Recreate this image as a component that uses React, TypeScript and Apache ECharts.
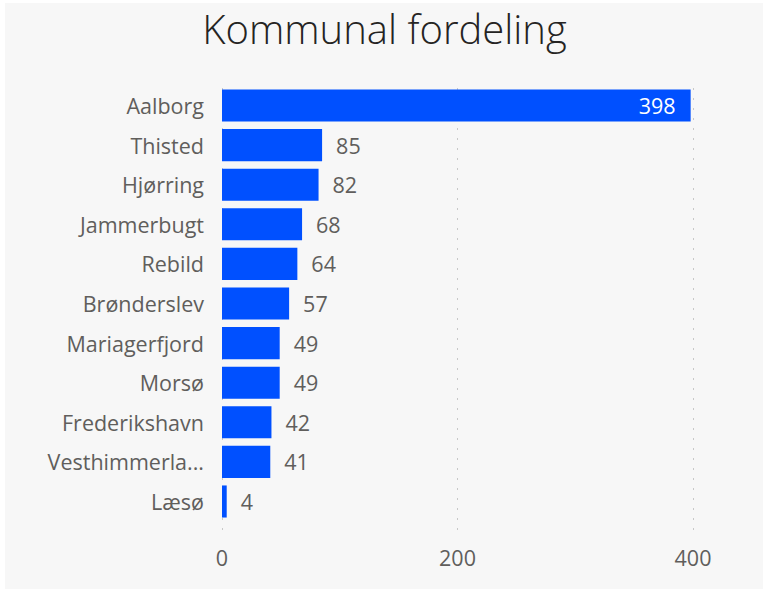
import React, { useEffect, useRef } from "react";
import * as echarts from "echarts";

const categories = [
  "Aalborg",
  "Thisted",
  "Hjørring",
  "Jammerbugt",
  "Rebild",
  "Brønderslev",
  "Mariagerfjord",
  "Morsø",
  "Frederikshavn",
  "Vesthimmerland",
  "Læsø",
];
const values = [398, 85, 82, 68, 64, 57, 49, 49, 42, 41, 4];
const xTicks = [0, 200, 400];
const titleText = "Kommunal fordeling";

const FONT = "'Open Sans', 'Noto Sans', sans-serif";
const LEFT = 222;
const RIGHT = 769 - 693;
const LABEL_SIZE = 21.5;

export default function App() {
  const ref = useRef<HTMLDivElement>(null);
  useEffect(() => {
    document.body.style.margin = "0";
    const chart = echarts.init(ref.current!, null, { renderer: "svg" });
    const xMin = xTicks[0];
    const xMax = xTicks[xTicks.length - 1];
    const interval = xTicks[1] - xTicks[0];
    chart.setOption({
      animation: false,
      backgroundColor: "#ffffff",
      graphic: [
        {
          type: "rect",
          z: -10,
          shape: { x: 5, y: 3, width: 758, height: 586 },
          style: { fill: "#f7f7f7" },
          silent: true,
        },
      ],
      title: {
        text: titleText,
        left: "center",
        top: 5,
        padding: 0,
        textStyle: {
          fontFamily: FONT,
          fontWeight: 300,
          fontSize: 40,
          lineHeight: 46,
          color: "#252423",
        },
      },
      grid: [
        { left: LEFT, right: RIGHT, top: 85.7, height: 435.6, containLabel: false },
        { left: LEFT, right: RIGHT, top: 88, height: 444, containLabel: false },
      ],
      xAxis: [
        {
          gridIndex: 0,
          type: "value",
          min: xMin,
          max: xMax,
          interval,
          axisLine: { show: false },
          axisTick: { show: false },
          axisLabel: { show: false },
          splitLine: { show: false },
        },
        {
          gridIndex: 1,
          type: "value",
          min: xMin,
          max: xMax,
          interval,
          axisLine: { show: false },
          axisTick: { show: false },
          axisLabel: {
            show: true,
            margin: 14,
            fontFamily: FONT,
            fontSize: LABEL_SIZE,
            color: "#605e5c",
          },
          splitLine: {
            show: true,
            lineStyle: { type: [2, 8], color: "#c8c8c8", width: 1 },
          },
        },
      ],
      yAxis: [
        {
          gridIndex: 0,
          type: "category",
          data: categories,
          inverse: true,
          axisLine: { show: false },
          axisTick: { show: false },
          axisLabel: {
            margin: 18,
            fontFamily: FONT,
            fontSize: LABEL_SIZE,
            color: "#605e5c",
            width: 160,
            overflow: "truncate",
            ellipsis: "...",
          },
        },
        {
          gridIndex: 1,
          type: "category",
          data: categories,
          show: false,
        },
      ],
      series: [
        {
          type: "bar",
          xAxisIndex: 0,
          yAxisIndex: 0,
          data: values.map((v, i) => ({
            value: v,
            label:
              i === 0
                ? { position: "insideRight", color: "#ffffff", distance: 15 }
                : undefined,
          })),
          barCategoryGap: "19%",
          itemStyle: { color: "#0050ff" },
          label: {
            show: true,
            position: "right",
            distance: 14,
            fontFamily: FONT,
            fontSize: LABEL_SIZE,
            color: "#605e5c",
          },
        },
      ],
    });
    return () => chart.dispose();
  }, []);
  return <div ref={ref} style={{ width: 769, height: 592 }} />;
}
